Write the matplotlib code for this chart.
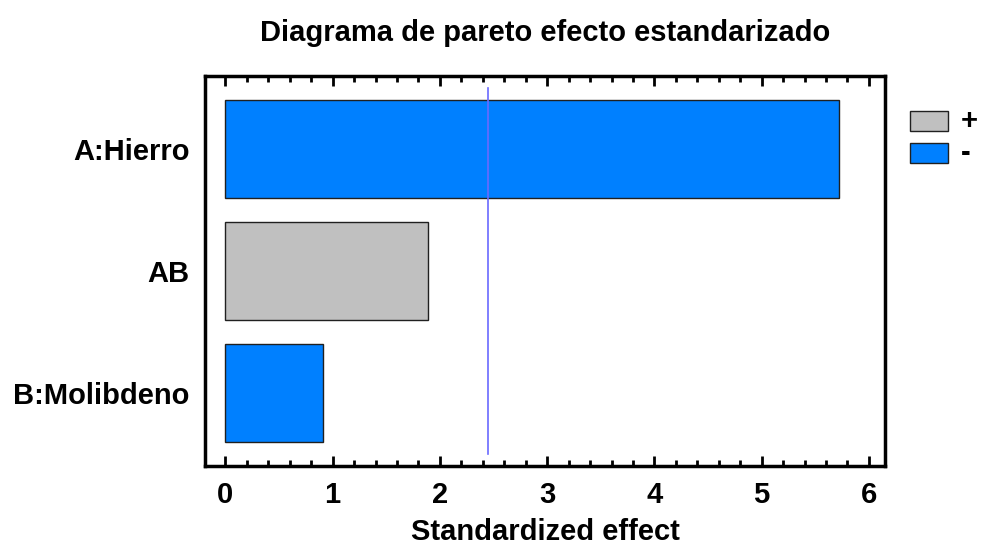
import numpy as np
import matplotlib.pyplot as plt
from matplotlib.patches import Rectangle
from matplotlib.ticker import MultipleLocator

plt.rcParams['font.family'] = ['Liberation Sans', 'DejaVu Sans']
plt.rcParams['font.weight'] = 'bold'

# effects, bottom to top
factors = ['B:Molibdeno', 'AB', 'A:Hierro']
effects = [0.91, 1.89, 5.72]
signs = ['-', '+', '-']
critical = 2.447

colors = {'+': '#c0c0c0', '-': '#0080ff'}
fs = 21

fig = plt.figure(figsize=(9.82, 5.46), dpi=100)
ax = fig.add_axes([0.2088, 0.1465, 0.6924, 0.7143])

ypos = np.arange(len(factors))
ax.barh(ypos, effects, height=0.8, color=[colors[s] for s in signs],
        edgecolor='#202020', linewidth=1, zorder=2)
ax.plot([critical, critical], [-0.5, 2.5], color='#6a6aff', lw=1.2, zorder=3)

ax.set_xlim(-0.19, 6.15)
ax.set_ylim(-0.6, 2.6)
ax.set_yticks(ypos)
ax.set_yticklabels(factors, fontsize=fs, fontweight='bold')
ax.tick_params(axis='y', length=0, pad=11)

ax.xaxis.set_major_locator(MultipleLocator(1))
ax.xaxis.set_minor_locator(MultipleLocator(0.2))
ax.tick_params(axis='x', which='major', direction='in', top=True, length=7,
               width=2, labelsize=fs, pad=11)
ax.tick_params(axis='x', which='minor', direction='in', top=True, length=4, width=2)
for lbl in ax.get_xticklabels():
    lbl.set_fontweight('bold')

for sp in ax.spines.values():
    sp.set_linewidth(2.5)

ax.set_xlabel('Standardized effect', fontsize=fs, fontweight='bold', labelpad=6)
fig.text(0.555, 0.94, 'Diagrama de pareto efecto estandarizado',
         ha='center', va='center', fontsize=fs, fontweight='bold')

# legend drawn by hand in figure coordinates
for (sign, yb) in [('+', 0.760), ('-', 0.7015)]:
    fig.patches.append(Rectangle((0.9267, yb), 0.0387, 0.037, transform=fig.transFigure,
                                 facecolor=colors[sign], edgecolor='#202020', lw=1))
    fig.text(0.978, yb + 0.0185, sign, ha='left', va='center',
             fontsize=fs, fontweight='bold')

fig.savefig('out.png', dpi=100)
